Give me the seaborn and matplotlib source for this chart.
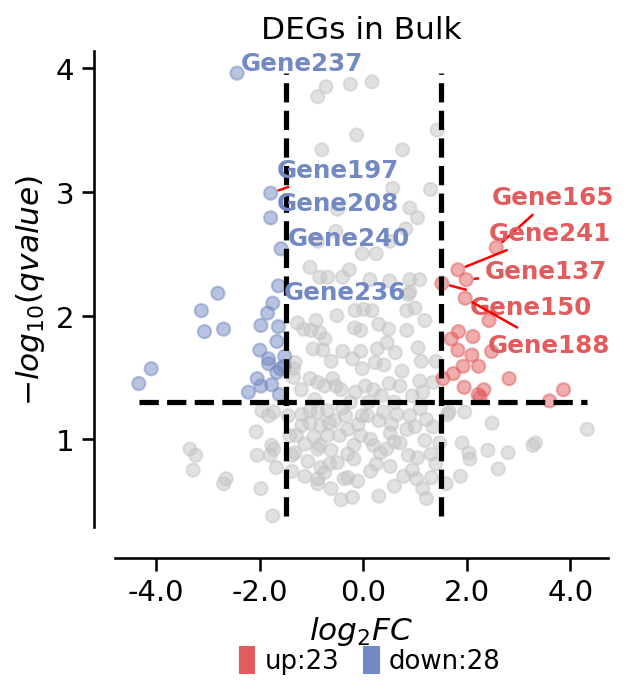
import pandas as pd
import matplotlib
matplotlib.use('Agg')
import matplotlib.pyplot as plt
import seaborn as sns
from matplotlib.patches import Patch
from matplotlib.ticker import FormatStrFormatter

# data (log2FC, -log10 qvalue)
up_lfc = [2.57, 1.83, 1.99, 1.52, 1.97, 2.43, 1.84, 1.70, 2.12, 2.48, 1.83, 2.10,
          2.23, 1.93, 1.74, 1.54, 2.82, 1.95, 2.33, 2.22, 2.26, 3.87, 3.60]
up_q = [2.55, 2.37, 2.29, 2.26, 2.14, 1.96, 1.87, 1.81, 1.83, 1.71, 1.72, 1.68,
        1.59, 1.59, 1.53, 1.49, 1.49, 1.42, 1.40, 1.36, 1.34, 1.40, 1.31]
up_labels = ['Gene165', 'Gene241', 'Gene137', 'Gene150', 'Gene188']

down_lfc = [-2.44, -1.79, -1.79, -1.59, -1.64, -2.81, -3.13, -3.07, -2.70, -4.10,
            -4.34, -1.75, -1.85, -1.98, -1.64, -1.67, -2.00, -1.83, -1.83, -1.52,
            -1.53, -2.05, -1.98, -1.77, -2.22, -1.62, -1.67, -1.60]
down_q = [3.96, 2.99, 2.79, 2.54, 2.24, 2.18, 2.04, 1.87, 1.89, 1.57,
          1.45, 2.10, 2.02, 1.92, 1.91, 1.79, 1.72, 1.65, 1.61, 1.67,
          1.59, 1.49, 1.43, 1.44, 1.38, 1.36, 1.54, 1.57]
down_labels = ['Gene237', 'Gene197', 'Gene208', 'Gene240', 'Gene236']

gray_lfc = [-0.72, -0.88, -0.25, 0.17, -0.13, -0.80, 1.43, 0.76, 0.57, 1.30,
            0.90, 1.05, 0.82, 0.51, -0.02, 0.25, 0.90, 1.09, 0.13, 0.51,
            0.90, -0.50, -0.53, -0.88, -1.03, -0.84, -0.69, -0.40, -0.27,
            -3.35, -3.24, -3.29, -2.65, -2.70, -1.98, -1.75, -2.07, -2.05, -1.77,
            -1.73, -1.80, -1.68, -1.96, -1.83, -1.73, -1.45, -1.42, -1.38, -1.38,
            -1.32, -1.35, -1.27, -1.15, -0.91, -1.01, -0.84, -0.74, -0.51, -0.97,
            -0.78, -0.62, -0.40, -1.03, -0.88, -0.59, -0.43, -0.75, -1.19, -1.03,
            -0.88, -0.69, -1.19, -1.03, -0.82, -0.69, -1.29, -1.13, -0.88, -0.62,
            -1.32, -1.07, -0.82, -1.13, -0.88, -0.75, -0.62, -0.43, -0.88, -0.37,
            -0.16, -0.17, 0.01, -0.21, -0.05, -1.35, -0.53, -0.15, -0.94, -0.34,
            -0.02, -0.66, -0.30, -0.05, -0.84, -0.46, -0.18, -0.50, -0.18, -0.30,
            -0.11, -0.21,
            0.87, 0.17, 0.84, 1.00, 1.19, 0.30, 0.49, 0.84, -0.05, 0.46,
            0.62, 0.27, 1.06, 1.12, 0.23, -0.02, 1.41, 0.71, 1.09,
            1.35, 1.15, 0.04, 0.08, 0.39, 0.90, 1.22, 1.63, 0.14,
            0.52, 0.71, 0.84, 1.19, 1.48, 1.31, 0.33, 0.87, 0.14, 0.52,
            0.78, 1.03, 1.15, 1.32, 1.60, 0.30, 1.22,
            2.49, 1.91, 2.41, 2.04, 2.06, 2.80, 3.28, 3.33, 2.61, 4.33,
            1.88, 1.66, 1.96,
            0.20, 0.35, 0.50, 0.60, 0.95, 0.30, 0.55, 0.65, 1.00, 1.10,
            0.20, 0.45, 0.60, 1.05, 0.95, 0.25, -0.40, -0.25, -0.55, -0.10,
            0.10, -0.30, 0.60, 1.35, 1.40, -0.95, -1.20, -0.65, 0.40, 0.75]
gray_q = [3.85, 3.77, 3.87, 3.89, 3.46, 3.34, 3.50, 3.34, 3.03, 3.02,
          2.87, 2.79, 2.70, 2.60, 2.50, 2.50, 2.29, 2.29, 2.29, 2.28,
          2.19, 2.86, 2.68, 2.60, 2.39, 2.31, 2.31, 2.31, 2.37,
          0.92, 0.87, 0.75, 0.68, 0.64, 0.60, 0.38, 1.06, 0.87, 0.95,
          0.92, 0.87, 0.77, 1.23, 1.19, 1.22, 1.19, 1.03, 0.87, 0.74,
          1.62, 1.50, 1.94, 1.89, 1.96, 1.88, 1.86, 1.81, 2.00, 1.73,
          1.72, 1.63, 1.71, 1.49, 1.46, 1.49, 1.40, 1.43, 1.20, 1.23,
          1.22, 1.23, 1.11, 1.13, 1.11, 1.03, 1.03, 0.96, 0.92, 0.91,
          0.89, 0.82, 0.77, 0.70, 0.68, 0.73, 0.60, 0.51, 0.64, 0.68,
          2.04, 1.90, 2.05, 1.65, 1.71, 1.57, 1.43, 1.38, 1.32, 1.19,
          1.19, 1.13, 1.08, 1.03, 0.95, 1.03, 0.95, 0.81, 0.84, 0.69,
          0.66, 0.53,
          2.17, 2.04, 2.04, 2.06, 1.96, 1.93, 1.89, 1.88, 1.88, 1.78,
          1.70, 1.73, 1.74, 1.63, 1.62, 1.57, 1.63, 1.43, 1.47,
          1.46, 1.38, 1.43, 1.19, 1.22, 1.19, 1.16, 1.20, 1.00,
          1.05, 0.97, 1.08, 0.99, 0.97, 0.88, 0.89, 0.87, 0.74, 0.78,
          0.70, 0.68, 0.60, 0.69, 0.64, 0.54, 0.52,
          1.13, 0.97, 0.91, 0.89, 0.84, 0.89, 0.95, 0.97, 0.76, 1.08,
          0.70, 1.22, 1.22,
          1.40, 1.35, 1.45, 1.30, 1.35, 1.15, 1.12, 1.20, 1.10, 1.25,
          0.95, 0.92, 0.98, 0.85, 0.75, 0.80, 1.25, 1.30, 1.15, 1.12,
          1.30, 0.88, 0.62, 1.10, 0.80, 1.02, 1.40, 0.80, 1.60, 1.55]

fc_cut = 1.5
q_cut = 1.3
red = '#E25C5E'
blue = '#7389C3'
grey = '#C4C4C4'

df = pd.concat([
    pd.DataFrame({'log2FC': gray_lfc, 'qv': gray_q, 'group': 'none'}),
    pd.DataFrame({'log2FC': down_lfc, 'qv': down_q, 'group': 'down'}),
    pd.DataFrame({'log2FC': up_lfc, 'qv': up_q, 'group': 'up'}),
], ignore_index=True)

sns.set_theme(style='ticks', rc={
    'axes.edgecolor': 'black', 'text.color': 'black',
    'axes.labelcolor': 'black', 'xtick.color': 'black', 'ytick.color': 'black',
})
plt.rcParams['font.family'] = ['DejaVu Sans']

fig = plt.figure(figsize=(4.2, 4.6133), dpi=150)
ax = fig.add_axes([0.1825, 0.237, 0.7825, 0.688])

sns.scatterplot(data=df, x='log2FC', y='qv', hue='group',
                palette={'none': grey, 'down': blue, 'up': red},
                s=40, alpha=0.5, linewidth=1, edgecolor='face',
                legend=False, ax=ax)

# garis batas
ax.vlines([-fc_cut, fc_cut], df['qv'].min(), df['qv'].max(),
          colors='black', linestyles='--', lw=2.5)
ax.hlines(q_cut, df['log2FC'].min(), df['log2FC'].max(),
          colors='black', linestyles='--', lw=2.5)

# label gen teratas
label_pos = {
    'Gene237': (-2.36, 4.04, False), 'Gene197': (-1.67, 3.18, True),
    'Gene208': (-1.67, 2.91, False), 'Gene240': (-1.46, 2.63, False),
    'Gene236': (-1.53, 2.19, False), 'Gene165': (2.48, 2.96, True),
    'Gene241': (2.43, 2.67, True), 'Gene137': (2.35, 2.36, True),
    'Gene150': (2.06, 2.07, True), 'Gene188': (2.40, 1.76, True),
}
for names, xs, ys, col in [(up_labels, up_lfc, up_q, red),
                           (down_labels, down_lfc, down_q, blue)]:
    for i, name in enumerate(names):
        tx, ty, arrow = label_pos[name]
        ax.annotate(name, xy=(xs[i], ys[i]), xytext=(tx, ty),
                    color=col, fontsize=11.8, fontweight='bold',
                    ha='left', va='center',
                    arrowprops=dict(arrowstyle='-', color='red', lw=1.2,
                                    shrinkA=1, shrinkB=4) if arrow else None)

ax.set_xlim(-4.8, 4.73)
ax.set_ylim(0.29, 4.14)
ax.set_xticks([-4, -2, 0, 2, 4])
ax.set_yticks([1, 2, 3, 4])
ax.xaxis.set_major_formatter(FormatStrFormatter('%.1f'))
ax.tick_params(labelsize=14)
sns.despine(ax=ax)
ax.spines['left'].set_position(('outward', 10))
ax.spines['bottom'].set_position(('outward', 15))

ax.set_title('DEGs in Bulk', fontsize=15)
ax.set_xlabel(r'$log_{2}FC$', fontsize=15)
ax.set_ylabel(r'$-log_{10}(qvalue)$', fontsize=15)

handles = [Patch(color=red, label=f'up:{len(up_lfc)}'),
           Patch(color=blue, label=f'down:{len(down_lfc)}')]
fig.legend(handles=handles, loc='center', bbox_to_anchor=(0.588, 0.044),
           ncol=2, frameon=False, fontsize=12.5, handlelength=0.55,
           handleheight=1.15, handletextpad=0.4, columnspacing=0.95)

fig.savefig('out.png', dpi=150)
plt.close(fig)
